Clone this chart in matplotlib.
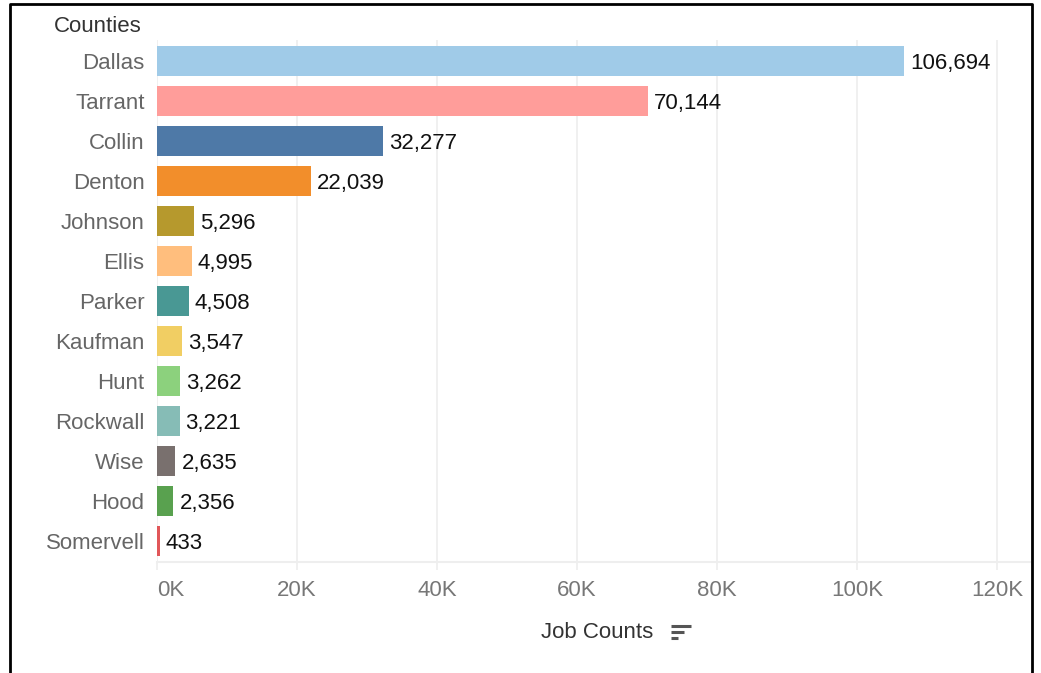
import matplotlib
matplotlib.use("Agg")
import matplotlib.pyplot as plt
from matplotlib.lines import Line2D

counties = ["Dallas", "Tarrant", "Collin", "Denton", "Johnson", "Ellis", "Parker",
            "Kaufman", "Hunt", "Rockwall", "Wise", "Hood", "Somervell"]
job_counts = [106694, 70144, 32277, 22039, 5296, 4995, 4508, 3547, 3262, 3221, 2635, 2356, 433]
bar_colors = ["#A0CBE8", "#FF9D9A", "#4E79A7", "#F28E2B", "#B6992D", "#FFBE7D", "#499894",
              "#F1CE63", "#8CD17D", "#86BCB6", "#79706E", "#59A14F", "#E15759"]
x_ticks = [0, 20000, 40000, 60000, 80000, 100000, 120000]
x_tick_labels = ["0K", "20K", "40K", "60K", "80K", "100K", "120K"]

plt.rcParams["font.family"] = ["Liberation Sans", "DejaVu Sans"]
FS = 16

W, H = 1041, 673
fig = plt.figure(figsize=(W / 100, H / 100), dpi=100)
ax = fig.add_axes([157 / W, 1 - 562 / H, (1030 - 157) / W, (562 - 40) / H])

ypos = list(range(len(counties)))
ax.barh(ypos, job_counts, height=0.75, color=bar_colors, zorder=2)
for y, v in zip(ypos, job_counts):
    ax.text(v + 850, y, f"{v:,}", va="center_baseline", ha="left", fontsize=FS, color="#111111")

ax.set_ylim(len(counties) - 0.475, -0.525)
ax.set_xlim(0, (1030 - 157) / 7 * 1000)
ax.set_yticks(ypos)
ax.set_yticklabels(counties, fontsize=FS, color="#666666")
ax.set_xticks(x_ticks)
ax.set_xticklabels(x_tick_labels, fontsize=FS, color="#777777")
ax.get_xticklabels()[0].set_horizontalalignment("left")
ax.tick_params(axis="y", length=0, pad=9)
ax.tick_params(axis="x", length=6, color="#eeeeee", width=1.2, pad=7, direction="out")
ax.grid(axis="x", color="#eeeeee", linewidth=1.2, zorder=0)
for s in ["top", "right", "left"]:
    ax.spines[s].set_visible(False)
ax.spines["bottom"].set_color("#eeeeee")
ax.spines["bottom"].set_linewidth(1.5)

fig.text(98 / W, 1 - 26 / H, "Counties", ha="center", va="center", fontsize=FS, color="#333333")
fig.text(597 / W, 1 - 632 / H, "Job Counts", ha="center", va="center", fontsize=FS, color="#333333")

# sort indicator next to the axis title
for i, (x0, x1) in enumerate([(671, 691), (671, 684), (671, 678)]):
    yy = 1 - (626 + i * 6) / H
    fig.add_artist(Line2D([x0 / W, x1 / W], [yy, yy], color="#555555", linewidth=2.2,
                          solid_capstyle="butt"))

# frame around the sheet
fig.add_artist(Line2D([10 / W, 10 / W, 1032 / W, 1032 / W], [0, 1 - 4 / H, 1 - 4 / H, 0],
                      color="black", linewidth=2))

fig.savefig("out.png", dpi=100)
